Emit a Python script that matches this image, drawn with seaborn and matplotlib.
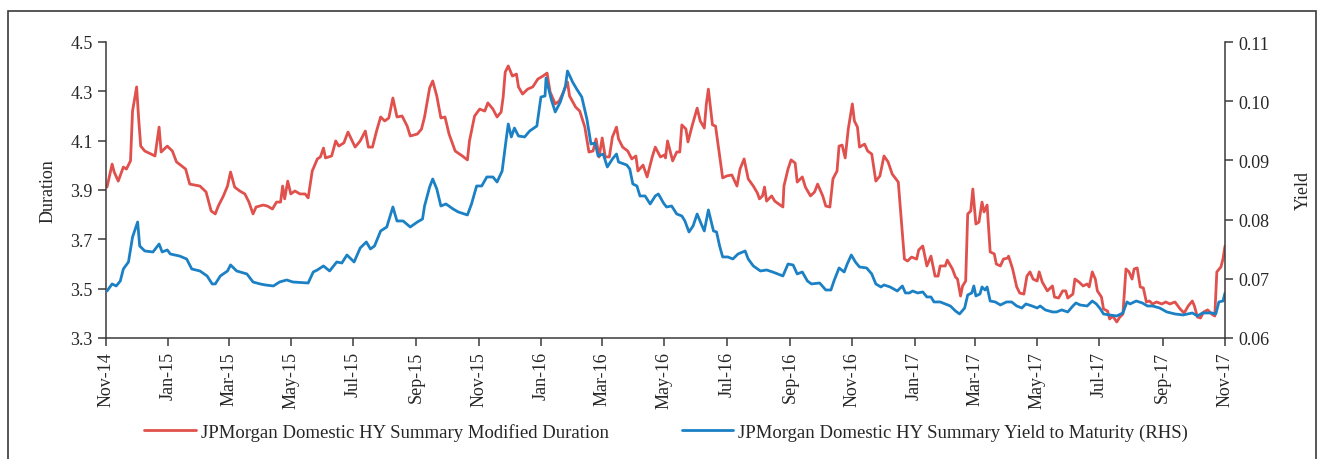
import matplotlib
matplotlib.use('Agg')
import pandas as pd
import numpy as np
import matplotlib.pyplot as plt
import matplotlib.dates as mdates
from matplotlib.patches import Rectangle
import seaborn as sns

# dati (giorni dal 1 nov 2014)
start = "2014-11-01"

dur_day = [1, 6, 8, 12, 17, 20, 24, 26, 30, 32, 34, 38, 48, 52, 54, 60, 65, 69, 78, 82,
           92, 98, 103, 107, 110, 115, 119, 122, 126, 131, 136, 140, 144, 147, 154, 158, 163, 167, 171, 173,
           175, 178, 181, 185, 190, 195, 198, 202, 207, 210, 213, 215, 221, 225, 228, 233, 237, 244, 249, 254,
           257, 261, 265, 269, 273, 277, 281, 285, 290, 295, 298, 305, 309, 312, 317, 320, 324, 328, 332, 336,
           342, 349, 354, 356, 361, 366, 371, 374, 379, 383, 387, 389, 391, 394, 398, 402, 404, 408, 413, 418,
           423, 428, 432, 435, 440, 444, 448, 452, 454, 460, 464, 469, 473, 477, 480, 483, 486, 489, 493, 496,
           500, 502, 506, 511, 515, 519, 521, 526, 530, 535, 538, 543, 547, 548, 550, 555, 559, 562, 564, 568,
           570, 574, 579, 582, 586, 588, 590, 594, 597, 601, 604, 608, 613, 618, 621, 625, 629, 634, 638, 640,
           643, 645, 647, 652, 655, 659, 663, 664, 668, 671, 675, 677, 682, 685, 690, 694, 697, 702, 705, 709,
           712, 716, 718, 721, 724, 727, 731, 733, 736, 738, 743, 746, 750, 754, 758, 762, 766, 770, 776, 779,
           782, 785, 789, 794, 796, 800, 804, 808, 812, 815, 817, 822, 824, 829, 832, 834, 837, 839, 842, 844,
           847, 849, 852, 855, 858, 860, 863, 866, 870, 872, 876, 879, 883, 884, 888, 892, 895, 899, 902, 905,
           908, 912, 914, 917, 922, 927, 929, 933, 937, 940, 942, 947, 949, 953, 957, 961, 963, 966, 969, 971,
           975, 977, 981, 983, 986, 990, 993, 996, 999, 1002, 1005, 1007, 1010, 1013, 1016, 1019, 1022, 1025, 1029, 1034,
           1038, 1042, 1047, 1052, 1056, 1060, 1064, 1066, 1069, 1072, 1075, 1079, 1083, 1086, 1088, 1092, 1094, 1096]
duration = [3.912, 4.005, 3.973, 3.936, 3.993, 3.985, 4.018, 4.220, 4.318, 4.188, 4.078, 4.058, 4.038, 4.155, 4.054, 4.078, 4.058, 4.014, 3.985, 3.924,
            3.916, 3.892, 3.815, 3.803, 3.835, 3.876, 3.916, 3.973, 3.912, 3.896, 3.884, 3.851, 3.803, 3.831, 3.839, 3.835, 3.823, 3.851, 3.851, 3.916,
            3.864, 3.936, 3.884, 3.896, 3.884, 3.884, 3.868, 3.977, 4.026, 4.034, 4.070, 4.030, 4.038, 4.099, 4.078, 4.091, 4.135, 4.074, 4.099, 4.139,
            4.074, 4.074, 4.139, 4.196, 4.180, 4.192, 4.273, 4.196, 4.200, 4.159, 4.119, 4.127, 4.147, 4.196, 4.314, 4.342, 4.281, 4.192, 4.196, 4.127,
            4.058, 4.038, 4.022, 4.099, 4.200, 4.228, 4.220, 4.253, 4.228, 4.196, 4.216, 4.277, 4.378, 4.403, 4.362, 4.370, 4.318, 4.289, 4.309, 4.318,
            4.350, 4.362, 4.374, 4.297, 4.249, 4.261, 4.297, 4.338, 4.281, 4.236, 4.220, 4.155, 4.054, 4.058, 4.107, 4.034, 4.111, 4.034, 4.034, 4.115,
            4.155, 4.107, 4.074, 4.058, 4.026, 4.038, 3.977, 4.001, 3.953, 4.034, 4.074, 4.034, 4.042, 4.030, 4.099, 4.018, 4.054, 4.054, 4.164, 4.147,
            4.095, 4.159, 4.232, 4.180, 4.151, 4.249, 4.309, 4.164, 4.159, 4.038, 3.949, 3.957, 3.961, 3.916, 3.985, 4.026, 3.945, 3.916, 3.888, 3.864,
            3.876, 3.912, 3.855, 3.876, 3.855, 3.843, 3.831, 3.916, 3.985, 4.022, 4.009, 3.932, 3.953, 3.912, 3.876, 3.892, 3.924, 3.876, 3.835, 3.831,
            3.945, 3.977, 4.078, 4.082, 4.030, 4.147, 4.249, 4.180, 4.155, 4.074, 4.086, 4.058, 4.046, 3.936, 3.957, 4.038, 4.014, 3.965, 3.932, 3.774,
            3.620, 3.612, 3.628, 3.620, 3.657, 3.673, 3.592, 3.632, 3.551, 3.551, 3.592, 3.592, 3.616, 3.580, 3.547, 3.539, 3.470, 3.511, 3.531, 3.803,
            3.815, 3.904, 3.762, 3.770, 3.851, 3.811, 3.839, 3.649, 3.641, 3.600, 3.592, 3.620, 3.624, 3.632, 3.580, 3.507, 3.482, 3.478, 3.551, 3.568,
            3.539, 3.531, 3.568, 3.527, 3.491, 3.511, 3.466, 3.462, 3.491, 3.491, 3.462, 3.478, 3.539, 3.527, 3.511, 3.519, 3.507, 3.568, 3.539, 3.491,
            3.466, 3.418, 3.409, 3.377, 3.389, 3.365, 3.385, 3.397, 3.580, 3.568, 3.539, 3.580, 3.584, 3.507, 3.503, 3.446, 3.450, 3.438, 3.446, 3.438,
            3.446, 3.438, 3.446, 3.418, 3.401, 3.430, 3.450, 3.430, 3.385, 3.381, 3.405, 3.414, 3.397, 3.389, 3.568, 3.588, 3.620, 3.673]

ytm_day = [1, 6, 10, 14, 17, 22, 26, 31, 33, 38, 46, 52, 55, 60, 63, 72, 79, 84, 92, 99,
           104, 107, 112, 119, 122, 128, 138, 144, 151, 156, 164, 170, 177, 183, 198, 203, 207, 213, 219, 226,
           231, 236, 243, 249, 255, 259, 263, 269, 275, 281, 285, 291, 298, 305, 310, 312, 317, 320, 324, 328,
           333, 340, 345, 354, 358, 363, 368, 373, 379, 383, 388, 392, 394, 397, 400, 404, 410, 415, 422, 426,
           430, 431, 436, 440, 445, 450, 452, 457, 461, 466, 471, 475, 479, 482, 487, 491, 496, 500, 502, 510,
           513, 516, 520, 523, 528, 533, 538, 541, 546, 549, 554, 559, 564, 567, 571, 575, 579, 583, 586, 590,
           595, 598, 601, 604, 609, 614, 619, 626, 629, 634, 641, 647, 653, 663, 668, 673, 677, 682, 687, 691,
           699, 705, 710, 713, 718, 723, 726, 730, 734, 738, 745, 750, 754, 759, 762, 768, 775, 780, 783, 787,
           790, 795, 800, 804, 808, 811, 817, 822, 827, 832, 836, 841, 844, 848, 850, 852, 856, 858, 861, 863,
           866, 871, 876, 882, 887, 892, 897, 901, 907, 912, 915, 920, 927, 931, 936, 939, 942, 947, 950, 954,
           961, 966, 970, 974, 977, 983, 990, 996, 1000, 1003, 1009, 1015, 1020, 1025, 1032, 1039, 1047, 1055, 1064, 1069,
           1074, 1083, 1087, 1090, 1094, 1096]
ytm = [0.06794, 0.06913, 0.06879, 0.06963, 0.07166, 0.07284, 0.07706, 0.07960, 0.07554, 0.07470, 0.07453, 0.07588, 0.07453, 0.07487, 0.07419, 0.07385, 0.07335, 0.07166, 0.07132, 0.07048,
       0.06913, 0.06913, 0.07048, 0.07132, 0.07234, 0.07132, 0.07082, 0.06946, 0.06913, 0.06896, 0.06879, 0.06946, 0.06980, 0.06946, 0.06929, 0.07115, 0.07149, 0.07217, 0.07132, 0.07284,
       0.07267, 0.07402, 0.07284, 0.07521, 0.07622, 0.07504, 0.07554, 0.07808, 0.07875, 0.08213, 0.07977, 0.07977, 0.07875, 0.07960, 0.08010, 0.08230, 0.08551, 0.08686, 0.08517, 0.08230,
       0.08264, 0.08179, 0.08129, 0.08078, 0.08264, 0.08568, 0.08568, 0.08720, 0.08720, 0.08635, 0.08821, 0.09362, 0.09615, 0.09396, 0.09547, 0.09412, 0.09396, 0.09497, 0.09581, 0.10071,
       0.10088, 0.10392, 0.10037, 0.09818, 0.09987, 0.10257, 0.10510, 0.10324, 0.10206, 0.10071, 0.09700, 0.09277, 0.09294, 0.09075, 0.09108, 0.08889, 0.09024, 0.09108, 0.08973, 0.08923,
       0.08855, 0.08602, 0.08568, 0.08399, 0.08399, 0.08264, 0.08399, 0.08433, 0.08281, 0.08213, 0.08230, 0.08095, 0.08061, 0.07977, 0.07791, 0.07892, 0.08095, 0.07926, 0.07808, 0.08163,
       0.07808, 0.07791, 0.07554, 0.07369, 0.07369, 0.07335, 0.07419, 0.07470, 0.07335, 0.07217, 0.07132, 0.07149, 0.07115, 0.07048, 0.07250, 0.07233, 0.07082, 0.07115, 0.06963, 0.06913,
       0.06929, 0.06811, 0.06811, 0.06963, 0.07183, 0.07115, 0.07250, 0.07402, 0.07284, 0.07200, 0.07183, 0.07082, 0.06913, 0.06862, 0.06896, 0.06862, 0.06794, 0.06879, 0.06761, 0.06761,
       0.06794, 0.06761, 0.06778, 0.06693, 0.06693, 0.06609, 0.06609, 0.06575, 0.06541, 0.06457, 0.06406, 0.06507, 0.06727, 0.06761, 0.06879, 0.06710, 0.06744, 0.06862, 0.06811, 0.06862,
       0.06625, 0.06609, 0.06558, 0.06609, 0.06609, 0.06541, 0.06507, 0.06575, 0.06541, 0.06507, 0.06541, 0.06474, 0.06440, 0.06440, 0.06474, 0.06457, 0.06440, 0.06541, 0.06592, 0.06558,
       0.06541, 0.06625, 0.06575, 0.06490, 0.06406, 0.06389, 0.06372, 0.06423, 0.06609, 0.06575, 0.06625, 0.06592, 0.06541, 0.06541, 0.06507, 0.06440, 0.06406, 0.06389, 0.06423, 0.06372,
       0.06423, 0.06423, 0.06406, 0.06609, 0.06625, 0.06761]

dur_label = "JPMorgan Domestic HY Summary Modified Duration"
ytm_label = "JPMorgan Domestic HY Summary Yield to Maturity (RHS)"

red = "#E0504C"
blue = "#1B80C4"
ink = "#262626"

sns.set_style("ticks")
plt.rcParams['font.family'] = ['Liberation Serif', 'DejaVu Serif']
plt.rcParams['font.size'] = 13

t0 = pd.Timestamp(start)
df_dur = pd.DataFrame({"date": t0 + pd.to_timedelta(dur_day, unit="D"), "val": duration})
df_ytm = pd.DataFrame({"date": t0 + pd.to_timedelta(ytm_day, unit="D"), "val": ytm})

fig = plt.figure(figsize=(13.23, 4.6), dpi=100)
ax = fig.add_axes([106 / 1323, 1 - 339 / 460, (1225 - 106) / 1323, (339 - 43) / 460])
ax2 = ax.twinx()

sns.lineplot(data=df_dur, x="date", y="val", ax=ax, color=red, lw=2.0,
             estimator=None, sort=False, label=dur_label, legend=False)
sns.lineplot(data=df_ytm, x="date", y="val", ax=ax2, color=blue, lw=2.0,
             estimator=None, sort=False, label=ytm_label, legend=False)

ax.set_xlim(t0, pd.Timestamp("2017-11-01"))
ax.set_ylim(3.3, 4.5)
ax2.set_ylim(0.06, 0.11)
ax.set_yticks(np.arange(3.3, 4.51, 0.2))
ax2.set_yticks(np.arange(0.06, 0.1101, 0.01))
ax.yaxis.set_major_formatter(matplotlib.ticker.FormatStrFormatter("%.1f"))
ax2.yaxis.set_major_formatter(matplotlib.ticker.FormatStrFormatter("%.2f"))

ax.xaxis.set_major_locator(mdates.MonthLocator(bymonth=[1, 3, 5, 7, 9, 11]))
ax.xaxis.set_major_formatter(mdates.DateFormatter("%b-%y"))
for lab in ax.get_xticklabels():
    lab.set_rotation(90)

ax.set_xlabel("")
ax.set_ylabel("Duration", fontsize=13, color=ink, labelpad=10)
ax2.set_ylabel("Yield", fontsize=13, color=ink, labelpad=18)

for a in (ax, ax2):
    a.spines["top"].set_visible(False)
    for s in ("left", "right", "bottom"):
        a.spines[s].set_color("#3a3a3a")
        a.spines[s].set_linewidth(1.1)
    a.tick_params(colors="#3a3a3a", labelcolor=ink, labelsize=13, length=6, width=1.1)
ax.spines["right"].set_visible(False)
ax2.spines["left"].set_visible(False)
ax2.spines["bottom"].set_visible(False)

# legenda in basso
h1, l1 = ax.get_legend_handles_labels()
h2, l2 = ax2.get_legend_handles_labels()
fig.legend(h1 + h2, l1 + l2, loc="center", bbox_to_anchor=(0.5035, 1 - 433 / 460), ncol=2,
           frameon=False, fontsize=13.5, handlelength=2.75, handletextpad=0.27, columnspacing=3.9,
           labelcolor=ink)

# cornice esterna
fig.patches.append(Rectangle((8 / 1323, -0.05), (1316 - 8) / 1323, 1.05 - 12 / 460,
                             transform=fig.transFigure, fill=False, edgecolor="#3a3a3a", lw=1.2))

fig.savefig("out.png", dpi=100)
